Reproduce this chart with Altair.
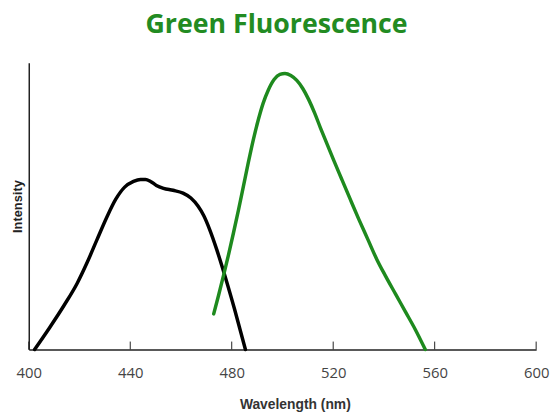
import altair as alt
import pandas as pd

# Excitation-like (black) curve
black_nm = [402.3, 408.2, 414.0, 419.1, 423.0, 426.9, 430.8, 434.3, 437.8, 441.3, 444.05, 446.0, 448.0,
            450.3, 453.1, 456.9, 460.8, 463.9, 466.7, 469.0, 471.35, 474.1, 476.8, 481.1, 485.4]
black_int = [0.0, 0.076, 0.155, 0.231, 0.303, 0.383, 0.462, 0.524, 0.566, 0.586, 0.593, 0.593, 0.586,
             0.572, 0.562, 0.555, 0.545, 0.528, 0.500, 0.466, 0.417, 0.348, 0.272, 0.141, 0.0]

# Emission (green) curve
green_nm = [472.9, 474.85, 476.8, 478.75, 480.7, 482.65, 484.6, 486.55, 488.5, 490.45, 492.4, 494.35,
            496.7, 499.0, 501.0, 503.3, 505.65, 508.0, 510.3, 512.7, 515.0, 517.35, 520.1, 523.2, 526.7,
            530.2, 533.7, 537.2, 540.7, 544.6, 548.5, 552.4, 556.3]
green_int = [0.124, 0.190, 0.259, 0.331, 0.407, 0.486, 0.569, 0.652, 0.731, 0.800, 0.859, 0.903,
             0.941, 0.959, 0.962, 0.955, 0.938, 0.910, 0.872, 0.824, 0.772, 0.721, 0.662, 0.597, 0.524,
             0.452, 0.383, 0.314, 0.255, 0.193, 0.131, 0.069, 0.0]

tick_values = [400, 440, 480, 520, 560, 600]

W, H = 513, 290

df = pd.concat([
    pd.DataFrame({"nm": black_nm, "I": black_int, "s": "black", "o": range(len(black_nm))}),
    pd.DataFrame({"nm": green_nm, "I": green_int, "s": "green", "o": range(len(green_nm))}),
])
ticks = pd.DataFrame({"nm": tick_values})

xscale = alt.Scale(domain=[400, 600], nice=False, zero=False)
yscale = alt.Scale(domain=[0, 1], nice=False)

lines = alt.Chart(df).mark_line(strokeWidth=3.5, interpolate="monotone", strokeCap="round").encode(
    x=alt.X("nm:Q", scale=xscale, axis=alt.Axis(
        values=tick_values, ticks=False, grid=False, domainColor="#222", domainWidth=1.5,
        labelFont="Open Sans", labelFontSize=15, labelColor="#444", labelPadding=16,
        labelFlush=False, labelOverlap=False,
        title="Wavelength (nm)", titleFont="Arial", titleFontSize=14, titleFontWeight="bold",
        titleColor="#333", titleX=269, titleY=56, titleBaseline="middle")),
    y=alt.Y("I:Q", scale=yscale, axis=alt.Axis(
        ticks=False, labels=False, grid=False, domainColor="#222", domainWidth=1.5,
        title="Intensity", titleFont="Arial", titleFontSize=13, titleFontWeight="bold",
        titleColor="#222", titlePadding=4)),
    color=alt.Color("s:N", scale=alt.Scale(domain=["black", "green"], range=["#000000", "#1e8a1e"]),
                    legend=None),
    order="o:Q",
    detail="s:N",
)

tick_marks = alt.Chart(ticks).mark_rule(color="#222", strokeWidth=1).encode(
    x=alt.X("nm:Q", scale=xscale),
    y=alt.value(H - 8),
    y2=alt.value(H),
)

chart = alt.layer(tick_marks, lines).properties(
    width=W, height=H,
    title=alt.TitleParams("Green Fluorescence", font="Open Sans", fontSize=27, fontWeight="bold",
                          color="#228b22", anchor="middle", dx=-6, offset=24),
    autosize=alt.AutoSizeParams(type="none"),
    padding={"left": 21, "top": 53, "right": 14, "bottom": 66},
).configure_view(stroke=None)

chart.save("out.html", embed_options={"renderer": "svg", "actions": False})
